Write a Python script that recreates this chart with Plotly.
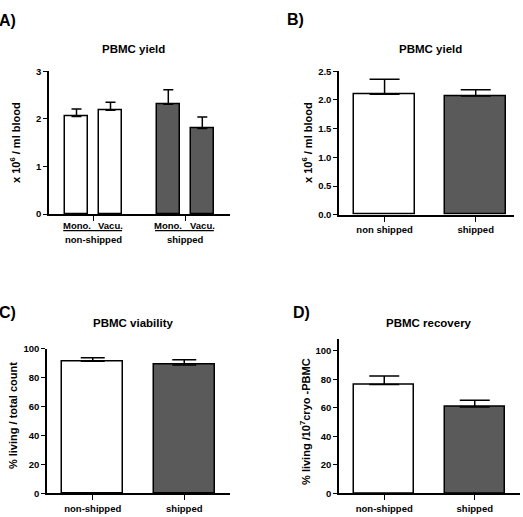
import plotly.graph_objects as go

W, H = 523, 517

# ---------------- data ----------------
a_groups = ["non-shipped", "non-shipped", "shipped", "shipped"]
a_sub = ["Mono.", "Vacu.", "Mono.", "Vacu."]
a_vals = [2.05, 2.18, 2.31, 1.80]
a_err = [0.16, 0.17, 0.30, 0.24]

b_cats = ["non shipped", "shipped"]
b_vals = [2.10, 2.07]
b_err = [0.26, 0.11]

c_cats = ["non-shipped", "shipped"]
c_vals = [91.2, 88.7]
c_err = [2.5, 3.6]

d_cats = ["non-shipped", "shipped"]
d_vals = [76.4, 60.6]
d_err = [6.0, 4.8]

b_ticks = [0.0, 0.5, 1.0, 1.5, 2.0, 2.5]
cd_ticks = [0, 20, 40, 60, 80, 100]
a_ticks = [0, 1, 2, 3]

WHITE = "#ffffff"
DARK = "#5a5a5a"
FONT = "Liberation Sans, Arial, sans-serif"


def px_x(p):
    return p / W


def px_y(p):
    return 1 - p / H


fig = go.Figure()

# positions for panel A (with gap between groups)
gap = 0.7
a_x = []
prev = None
pos = 0.0
for i, g in enumerate(a_groups):
    if prev is not None:
        pos += 1.0 + (gap if g != prev else 0.0)
    a_x.append(pos)
    prev = g
a_colors = [WHITE if g == "non-shipped" else DARK for g in a_groups]
bw_a = 0.68

err_style = dict(type="data", symmetric=False, thickness=1.5, color="black")

fig.add_trace(go.Bar(
    x=a_x, y=a_vals, width=bw_a, marker=dict(color=a_colors, line=dict(color="black", width=1.5)),
    error_y=dict(array=a_err, arrayminus=[0] * len(a_err), width=5, **err_style),
    xaxis="x", yaxis="y", showlegend=False, hoverinfo="skip"))

fig.add_trace(go.Bar(
    x=list(range(len(b_cats))), y=b_vals, width=0.67,
    marker=dict(color=[WHITE, DARK], line=dict(color="black", width=1.5)),
    error_y=dict(array=b_err, arrayminus=[0] * len(b_err), width=15, **err_style),
    xaxis="x2", yaxis="y2", showlegend=False, hoverinfo="skip"))

fig.add_trace(go.Bar(
    x=list(range(len(c_cats))), y=c_vals, width=0.667,
    marker=dict(color=[WHITE, DARK], line=dict(color="black", width=1.5)),
    error_y=dict(array=c_err, arrayminus=[0] * len(c_err), width=12, **err_style),
    xaxis="x3", yaxis="y3", showlegend=False, hoverinfo="skip"))

fig.add_trace(go.Bar(
    x=list(range(len(d_cats))), y=d_vals, width=0.66,
    marker=dict(color=[WHITE, DARK], line=dict(color="black", width=1.5)),
    error_y=dict(array=d_err, arrayminus=[0] * len(d_err), width=15, **err_style),
    xaxis="x4", yaxis="y4", showlegend=False, hoverinfo="skip"))

tickfont = dict(family=FONT, size=9.5, color="black", weight="bold")
common_x = dict(showline=True, linecolor="black", linewidth=1.5, ticks="outside", ticklen=5,
                tickwidth=1.2, tickcolor="black", showgrid=False, zeroline=False, tickfont=tickfont,
                fixedrange=True)
common_y = dict(showline=True, linecolor="black", linewidth=1.5, ticks="outside", ticklen=4,
                tickwidth=1.2, tickcolor="black", showgrid=False, zeroline=False, tickfont=tickfont,
                fixedrange=True)

# group centres for panel A
groups_order = []
for g in a_groups:
    if g not in groups_order:
        groups_order.append(g)
g_centers = []
g_edges = []
for g in groups_order:
    xs = [a_x[i] for i in range(len(a_x)) if a_groups[i] == g]
    g_centers.append(sum(xs) / len(xs))
    g_edges.append((min(xs) - bw_a / 2 - 0.05, max(xs) + bw_a / 2))

a_left = (49 - 76.5) / 34
a_right = (230 - 76.5) / 34

fig.update_layout(
    width=W, height=H, margin=dict(l=0, r=0, t=0, b=0),
    paper_bgcolor="white", plot_bgcolor="white", bargap=0,
    font=dict(family=FONT, color="black"),
    xaxis=dict(domain=[px_x(49), px_x(230)], range=[a_left, a_right], anchor="y",
               tickvals=g_centers, showticklabels=False, **common_x),
    yaxis=dict(domain=[px_y(212.7), px_y(66.7)], range=[0, 3], anchor="x",
               tickvals=a_ticks, **common_y),
    xaxis2=dict(domain=[px_x(339), px_x(514)], range=[-0.5, 1.42], anchor="y2",
                tickvals=list(range(len(b_cats))), ticktext=b_cats, **common_x),
    yaxis2=dict(domain=[px_y(213.3), px_y(66.7)], range=[0, 2.5], anchor="x2",
                tickvals=b_ticks, tickformat=".1f", **common_y),
    xaxis3=dict(domain=[px_x(47), px_x(230)], range=[-0.5, 1.5], anchor="y3",
                tickvals=list(range(len(c_cats))), ticktext=c_cats, **common_x),
    yaxis3=dict(domain=[px_y(498), px_y(350)], range=[0, 100], anchor="x3",
                tickvals=cd_ticks, **common_y),
    xaxis4=dict(domain=[px_x(339), px_x(520)], range=[-0.5, 1.5], anchor="y4",
                tickvals=list(range(len(d_cats))), ticktext=d_cats, **common_x),
    yaxis4=dict(domain=[px_y(498), px_y(340)], range=[0, 108.5], anchor="x4",
                tickvals=cd_ticks, **common_y),
)

ann = []


def txt(x, y, s, size, xref="paper", yref="paper", angle=0, xanchor="center"):
    ann.append(dict(x=x, y=y, xref=xref, yref=yref, text=s, showarrow=False,
                    textangle=angle, xanchor=xanchor, yanchor="middle",
                    font=dict(family=FONT, size=size, color="black")))


# panel letters
txt(px_x(-3), px_y(15), "<b>A)</b>", 16, xanchor="left")
txt(px_x(285), px_y(14), "<b>B)</b>", 16, xanchor="left")
txt(px_x(-3), px_y(313), "<b>C)</b>", 16, xanchor="left")
txt(px_x(291), px_y(313), "<b>D)</b>", 16, xanchor="left")

# titles
txt(px_x(133), px_y(44), "<b>PBMC yield</b>", 11.5)
txt(px_x(430), px_y(44), "<b>PBMC yield</b>", 11.5)
txt(px_x(133), px_y(324), "<b>PBMC viability</b>", 11.5)
txt(px_x(429), px_y(324), "<b>PBMC recovery</b>", 11.5)

# y-axis titles
txt(px_x(15), px_y(140), "<b>x 10<sup>6</sup> / ml blood</b>", 11, angle=-90)
txt(px_x(307), px_y(140), "<b>x 10<sup>6</sup> / ml blood</b>", 11, angle=-90)
txt(px_x(13), px_y(419), "<b>% living / total count</b>", 11, angle=-90)
txt(px_x(305), px_y(425), "<b>% living /10<sup>7</sup>cryo -PBMC</b>", 11, angle=-90)

# panel A sub-category and group labels
for xi, s in zip(a_x, a_sub):
    txt(xi, px_y(224), "<b>" + s + "</b>", 9.5, xref="x")
shapes = []
for g, c, (e0, e1) in zip(groups_order, g_centers, g_edges):
    txt(c, px_y(238.5), "<b>" + g + "</b>", 9.5, xref="x")
    shapes.append(dict(type="line", xref="x", yref="paper", x0=e0, x1=e1,
                       y0=px_y(229.5), y1=px_y(229.5), line=dict(color="black", width=1.2)))

fig.update_layout(annotations=ann, shapes=shapes)

fig.write_html("out.html", config={"displayModeBar": False},
               post_script="document.body.style.margin='0';document.body.style.overflow='hidden';")
